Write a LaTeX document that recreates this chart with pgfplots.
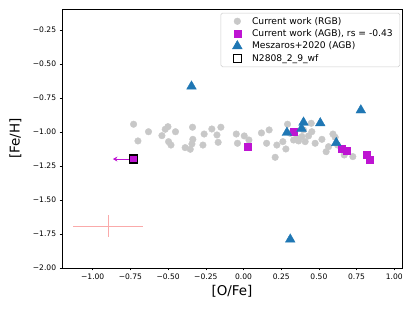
\documentclass[border=0pt]{standalone}
\usepackage{pgfplots}
\pgfplotsset{compat=1.18}
\usepackage{fontspec}
\setmainfont{DejaVu Sans}
\usetikzlibrary{arrows.meta}
\definecolor{rgbgrey}{RGB}{200,200,200}
\definecolor{agbmag}{RGB}{190,20,210}
\definecolor{tabblue}{RGB}{31,119,180}
\definecolor{errpink}{RGB}{250,170,170}
\begin{document}
\begin{tikzpicture}
\begin{axis}[
  name=ax,
  scale only axis,
  width=340bp, height=258.7bp,
  xmin=-1.2036, xmax=1.051,
  ymin=-2.0, ymax=-0.098,
  axis line style={line width=0.55bp},
  tick style={line width=0.55bp, black},
  major tick length=2.4bp,
  tick align=outside,
  xtick pos=bottom, ytick pos=left,
  xtick={-1,-0.75,-0.5,-0.25,0,0.25,0.5,0.75,1},
  xticklabels={−1.00,−0.75,−0.50,−0.25,0.00,0.25,0.50,0.75,1.00},
  ytick={-2,-1.75,-1.5,-1.25,-1,-0.75,-0.5,-0.25},
  yticklabels={−2.00,−1.75,−1.50,−1.25,−1.00,−0.75,−0.50,−0.25},
  tick label style={font=\fontsize{7.6}{9}\selectfont},
  xlabel={[O/Fe]}, ylabel={[Fe/H]},
  label style={font=\fontsize{13.5}{16}\selectfont},
  xlabel style={at={(axis description cs:0.5,0)}, anchor=north, yshift=-14bp},
  ylabel style={at={(axis description cs:0,0.5)}, anchor=south, yshift=37bp},
  legend style={at={(1,1)}, anchor=north east, xshift=-2bp, yshift=-3.5bp,
    draw=black!20, line width=0.5bp, rounded corners=1.5bp, fill=white,
    font=\fontsize{9.2}{11}\selectfont, row sep=0bp,
    inner xsep=5bp, inner ysep=2bp},
  legend cell align=left,
  legend image code/.code={\path[draw=none,fill=none] (0,0) -- (0.85cm,0); \draw[#1] plot coordinates {(0.4cm,0cm)};},
  clip=false,
]
% error bar (typical uncertainty)
\addplot[errpink, line width=0.7bp, forget plot, draw=none, mark=none,
  error bars/.cd, x dir=both, x explicit, y dir=both, y explicit,
  error mark=none, error bar style={errpink, line width=0.7bp}]
  coordinates {(-0.899,-1.691) +- (0.232,0.08)};
% Current work RGB
\addplot[only marks, mark=*, mark size=3.3bp, color=rgbgrey, mark options={draw=rgbgrey, fill=rgbgrey}] coordinates {
(-0.729,-0.943) (-0.700,-1.066) (-0.630,-0.998) (-0.541,-1.027) (-0.519,-0.980)
(-0.501,-0.961) (-0.497,-1.071) (-0.481,-1.096) (-0.451,-0.998) (-0.387,-1.115)
(-0.353,-1.127) (-0.336,-1.054) (-0.338,-0.965) (-0.342,-1.088) (-0.269,-1.096)
(-0.261,-1.015) (-0.210,-0.978) (-0.176,-1.022) (-0.168,-1.076) (-0.150,-0.965)
(-0.048,-1.015) (-0.040,-1.083) (0.005,-1.029) (0.036,-1.059) (0.119,-1.007)
(0.153,-1.083) (0.170,-0.985) (0.210,-1.186) (0.221,-1.096) (0.261,-1.071)
(0.281,-1.125) (0.292,-0.943) (0.310,-1.010) (0.354,-1.046) (0.365,-1.066)
(0.387,-1.034) (0.409,-1.071) (0.431,-1.029) (0.449,-0.936) (0.453,-0.998)
(0.475,-1.083) (0.520,-1.054) (0.548,-1.145) (0.564,-1.108) (0.593,-1.015)
(0.608,-1.039) (0.624,-1.096) (0.668,-1.169) (0.725,-1.181) (0.398,-0.985)
(0.332,-1.059)
};
\addlegendentry{Current work (RGB)}
% Current work AGB
\addplot[only marks, mark=square*, mark size=3.5bp, color=agbmag, mark options={draw=agbmag, fill=agbmag}] coordinates {
(0.332,-1.000) (0.031,-1.110) (0.654,-1.125) (0.686,-1.135) (0.814,-1.167) (0.836,-1.206) (-0.729,-1.199)
};
\addlegendentry{Current work (AGB), rs = -0.43}
% Meszaros+2020
\addplot[only marks, mark=triangle*, mark size=5.6bp, color=tabblue, mark options={draw=tabblue, fill=tabblue}] coordinates {
(-0.345,-0.665) (0.778,-0.840) (0.398,-0.930) (0.509,-0.935) (0.288,-1.005) (0.385,-0.975) (0.615,-1.080) (0.310,-1.790)
};
\addlegendentry{Meszaros+2020 (AGB)}
% N2808_2_9_wf
\addplot[only marks, mark=square, mark size=3.9bp, color=black, mark options={draw=black, line width=1.4bp}] coordinates {
(-0.729,-1.199)
};
\addlegendentry{N2808\_2\_9\_wf}
% arrow (upper limit)
\addplot[agbmag, line width=0.9bp, -{Stealth[length=4.5bp,width=5bp]}, forget plot] coordinates {(-0.755,-1.199) (-0.866,-1.199)};
\end{axis}
\path ([shift={(-62bp,-43bp)}]ax.south west) rectangle ([shift={(13bp,9.3bp)}]ax.north east);
\end{tikzpicture}
\end{document}
